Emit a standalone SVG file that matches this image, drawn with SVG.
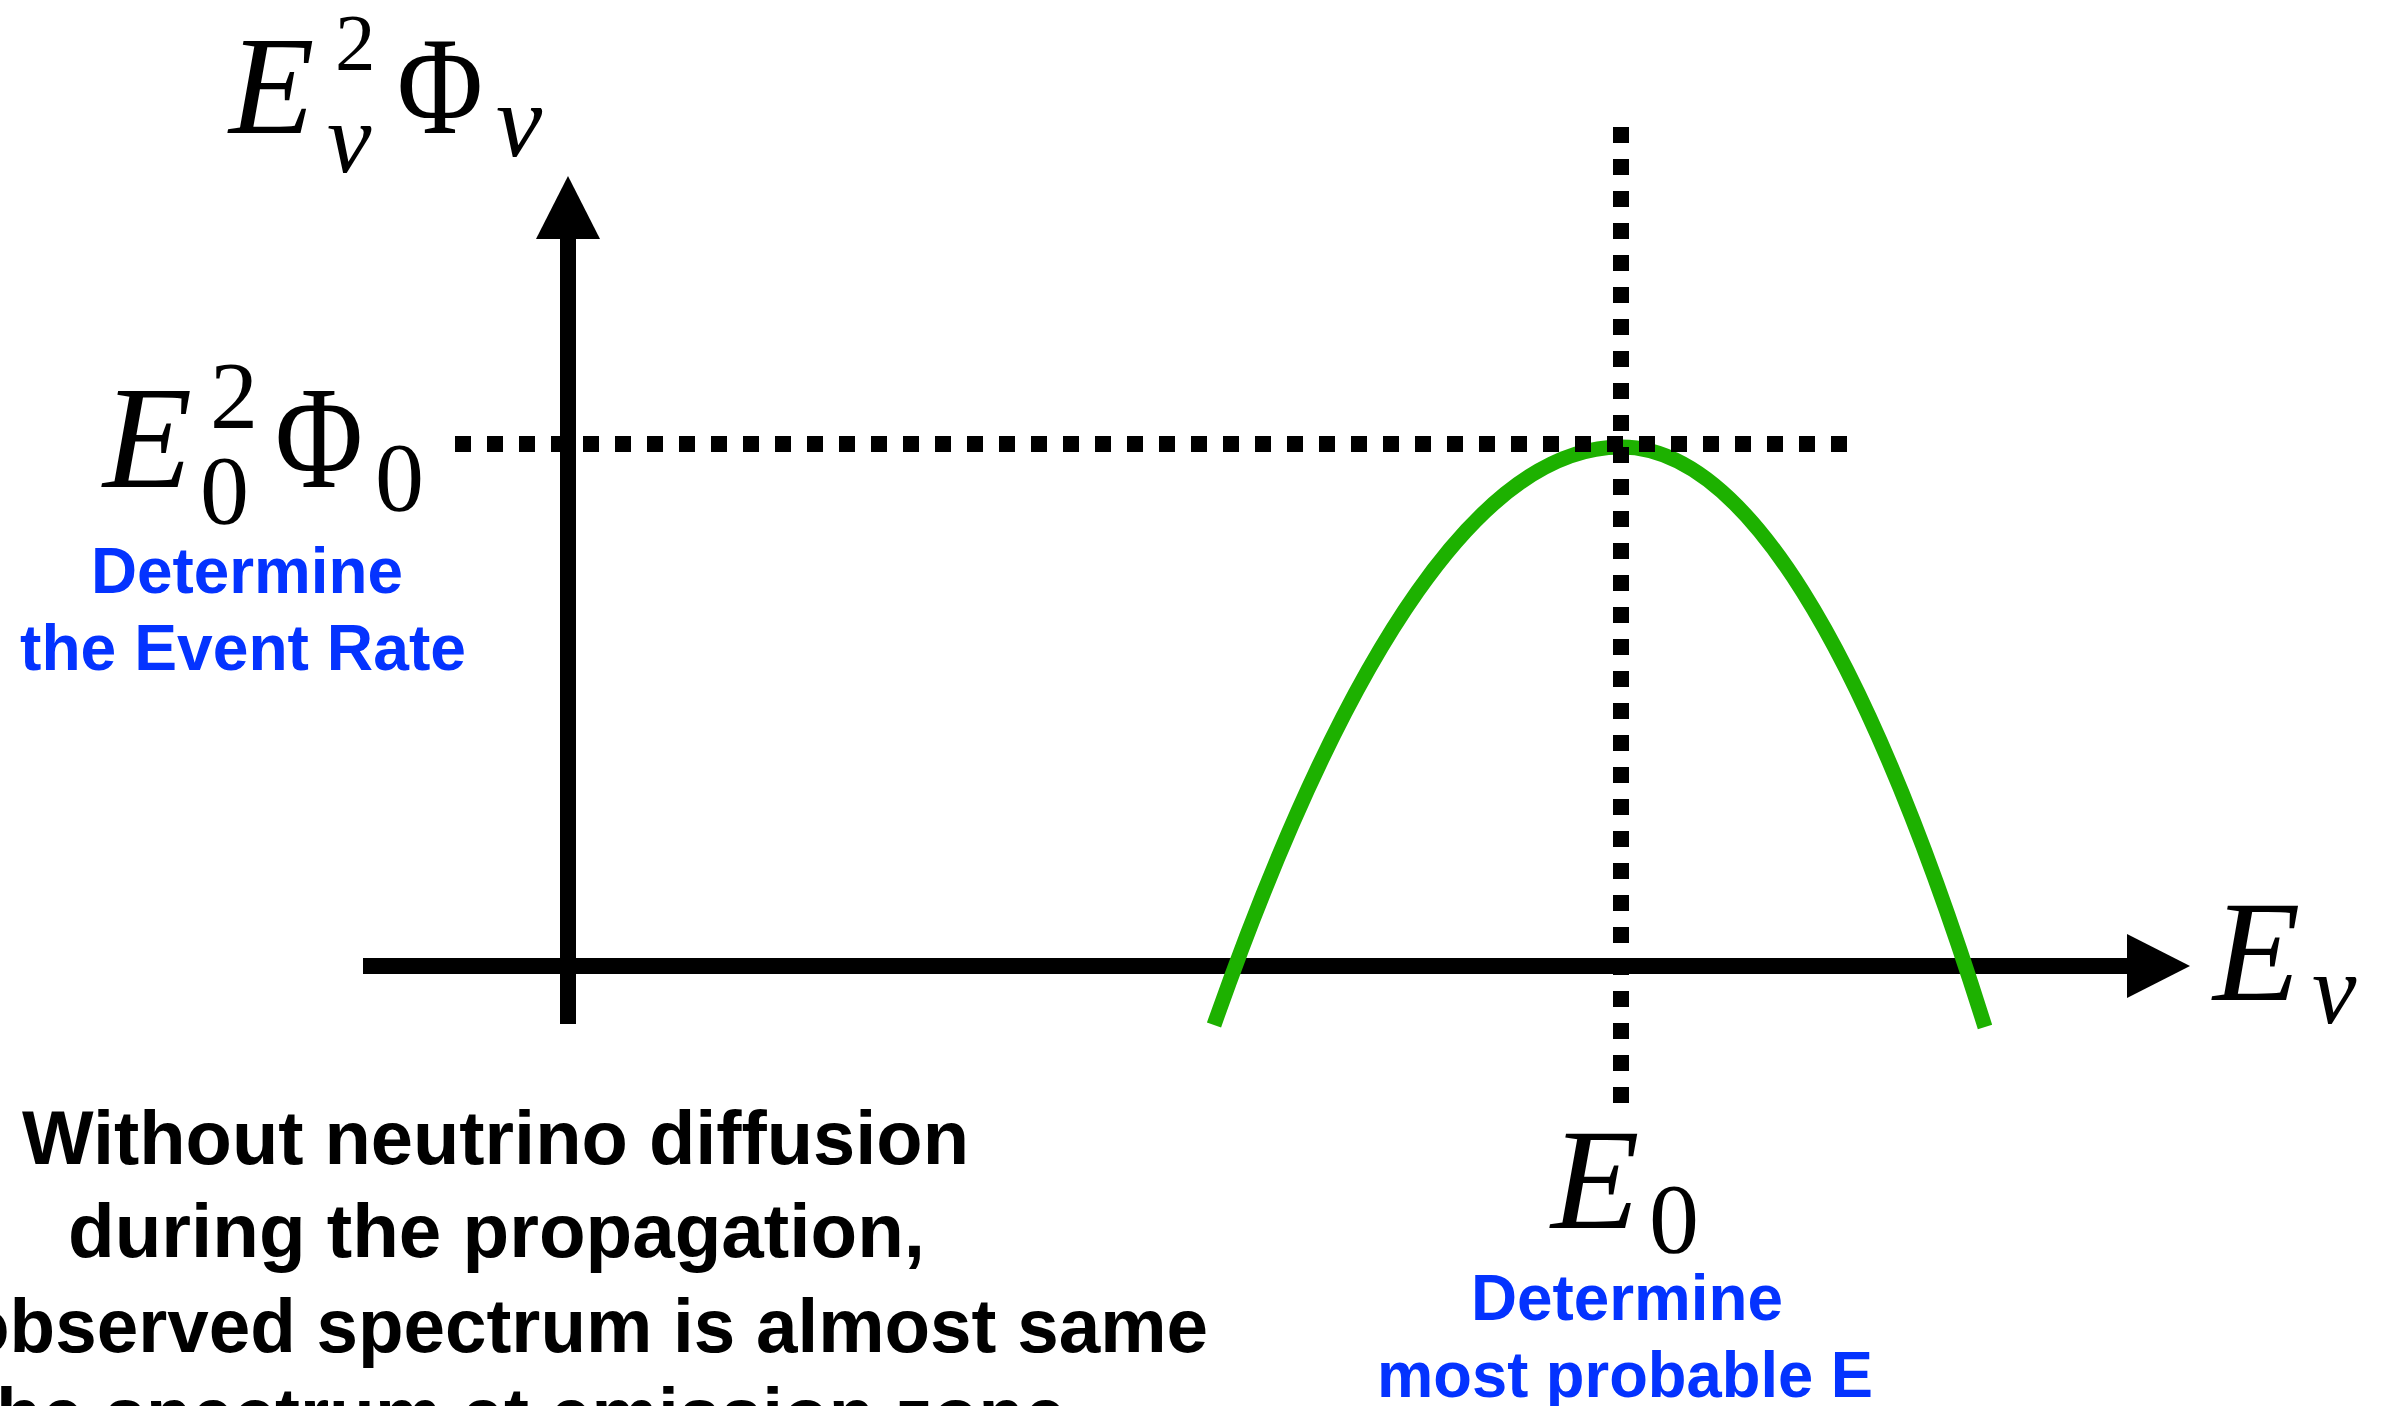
<svg xmlns="http://www.w3.org/2000/svg" width="2381" height="1406" viewBox="0 0 2381 1406">
  <defs>
    <marker id="arrow" markerUnits="userSpaceOnUse" markerWidth="70" markerHeight="70" viewBox="0 -35 70 70" refX="3" refY="0" orient="auto">
      <path d="M0,-32 L63,0 L0,32 Z" fill="#000"/>
    </marker>
    <style>
      .axis { stroke: #000; stroke-width: 16; fill: none; stroke-linecap: butt; }
      .dot { stroke: #000; stroke-width: 16; fill: none; stroke-dasharray: 16 16; stroke-linecap: butt; }
      .curve { stroke: #1db100; stroke-width: 15; fill: none; stroke-linecap: butt; }
      .mi { font-family: "Liberation Serif", "DejaVu Serif", serif; font-style: italic; fill: #000; }
      .mr { font-family: "Liberation Serif", "DejaVu Serif", serif; fill: #000; }
      .blue { font-family: "Liberation Sans", Arial, sans-serif; font-weight: bold; fill: #0433ff; font-size: 64px; }
      .note { font-family: "Liberation Sans", Arial, sans-serif; font-weight: bold; fill: #000; font-size: 76px; }
    </style>
  </defs>
  <rect width="2381" height="1406" fill="#fff"/>

  <g id="connectors">
    <path id="y-axis" class="axis" d="M568,1024 V236" marker-end="url(#arrow)"/>
    <path id="x-axis" class="axis" d="M363,966 H2130" marker-end="url(#arrow)"/>
  </g>

  <g id="spectrum-curve">
    <path class="curve" d="M1214,1025 Q1417.5,447 1621,447 Q1803,447 1985,1027"/>
  </g>

  <g id="guides">
    <path class="dot" d="M455,444 H1847"/>
    <path class="dot" d="M1621,127 V1104"/>
  </g>

  <g id="y-label">
    <text class="mi" x="229" y="133" font-size="140">E</text>
    <text class="mr" x="335" y="70" font-size="81">2</text>
    <text class="mi" x="327" y="172" font-size="100">ν</text>
    <text class="mr" x="397" y="133" font-size="140" textLength="86" lengthAdjust="spacingAndGlyphs">Φ</text>
    <text class="mi" x="496" y="156" font-size="104">ν</text>
  </g>

  <g id="peak-value-label">
    <text class="mi" x="103" y="487" font-size="146">E</text>
    <text class="mr" x="210" y="428" font-size="96">2</text>
    <text class="mr" x="200" y="523" font-size="98">0</text>
    <text class="mr" x="275" y="487" font-size="146" textLength="88" lengthAdjust="spacingAndGlyphs">Φ</text>
    <text class="mr" x="375" y="510" font-size="98">0</text>
  </g>

  <g id="event-rate-note">
    <text class="blue" x="91" y="593" textLength="312" lengthAdjust="spacingAndGlyphs">Determine</text>
    <text class="blue" x="20" y="670" textLength="446" lengthAdjust="spacingAndGlyphs">the Event Rate</text>
  </g>

  <g id="x-label">
    <text class="mi" x="2213" y="1000" font-size="143">E</text>
    <text class="mi" x="2312" y="1023" font-size="100">ν</text>
  </g>

  <g id="peak-energy-label">
    <text class="mi" x="1551" y="1228" font-size="145">E</text>
    <text class="mr" x="1649" y="1252" font-size="100">0</text>
  </g>

  <g id="most-probable-note">
    <text class="blue" x="1471" y="1320" textLength="312" lengthAdjust="spacingAndGlyphs">Determine</text>
    <text class="blue" x="1377" y="1397" textLength="496" lengthAdjust="spacingAndGlyphs">most probable E</text>
  </g>

  <g id="diffusion-note">
    <text class="note" x="22" y="1164" textLength="947" lengthAdjust="spacingAndGlyphs">Without neutrino diffusion</text>
    <text class="note" x="68" y="1257" textLength="857" lengthAdjust="spacingAndGlyphs">during the propagation,</text>
    <text class="note" x="-36" y="1352" textLength="1244" lengthAdjust="spacingAndGlyphs">observed spectrum is almost same</text>
    <text class="note" x="-4" y="1441" textLength="1070" lengthAdjust="spacingAndGlyphs">he spectrum at emission zone</text>
  </g>
</svg>
